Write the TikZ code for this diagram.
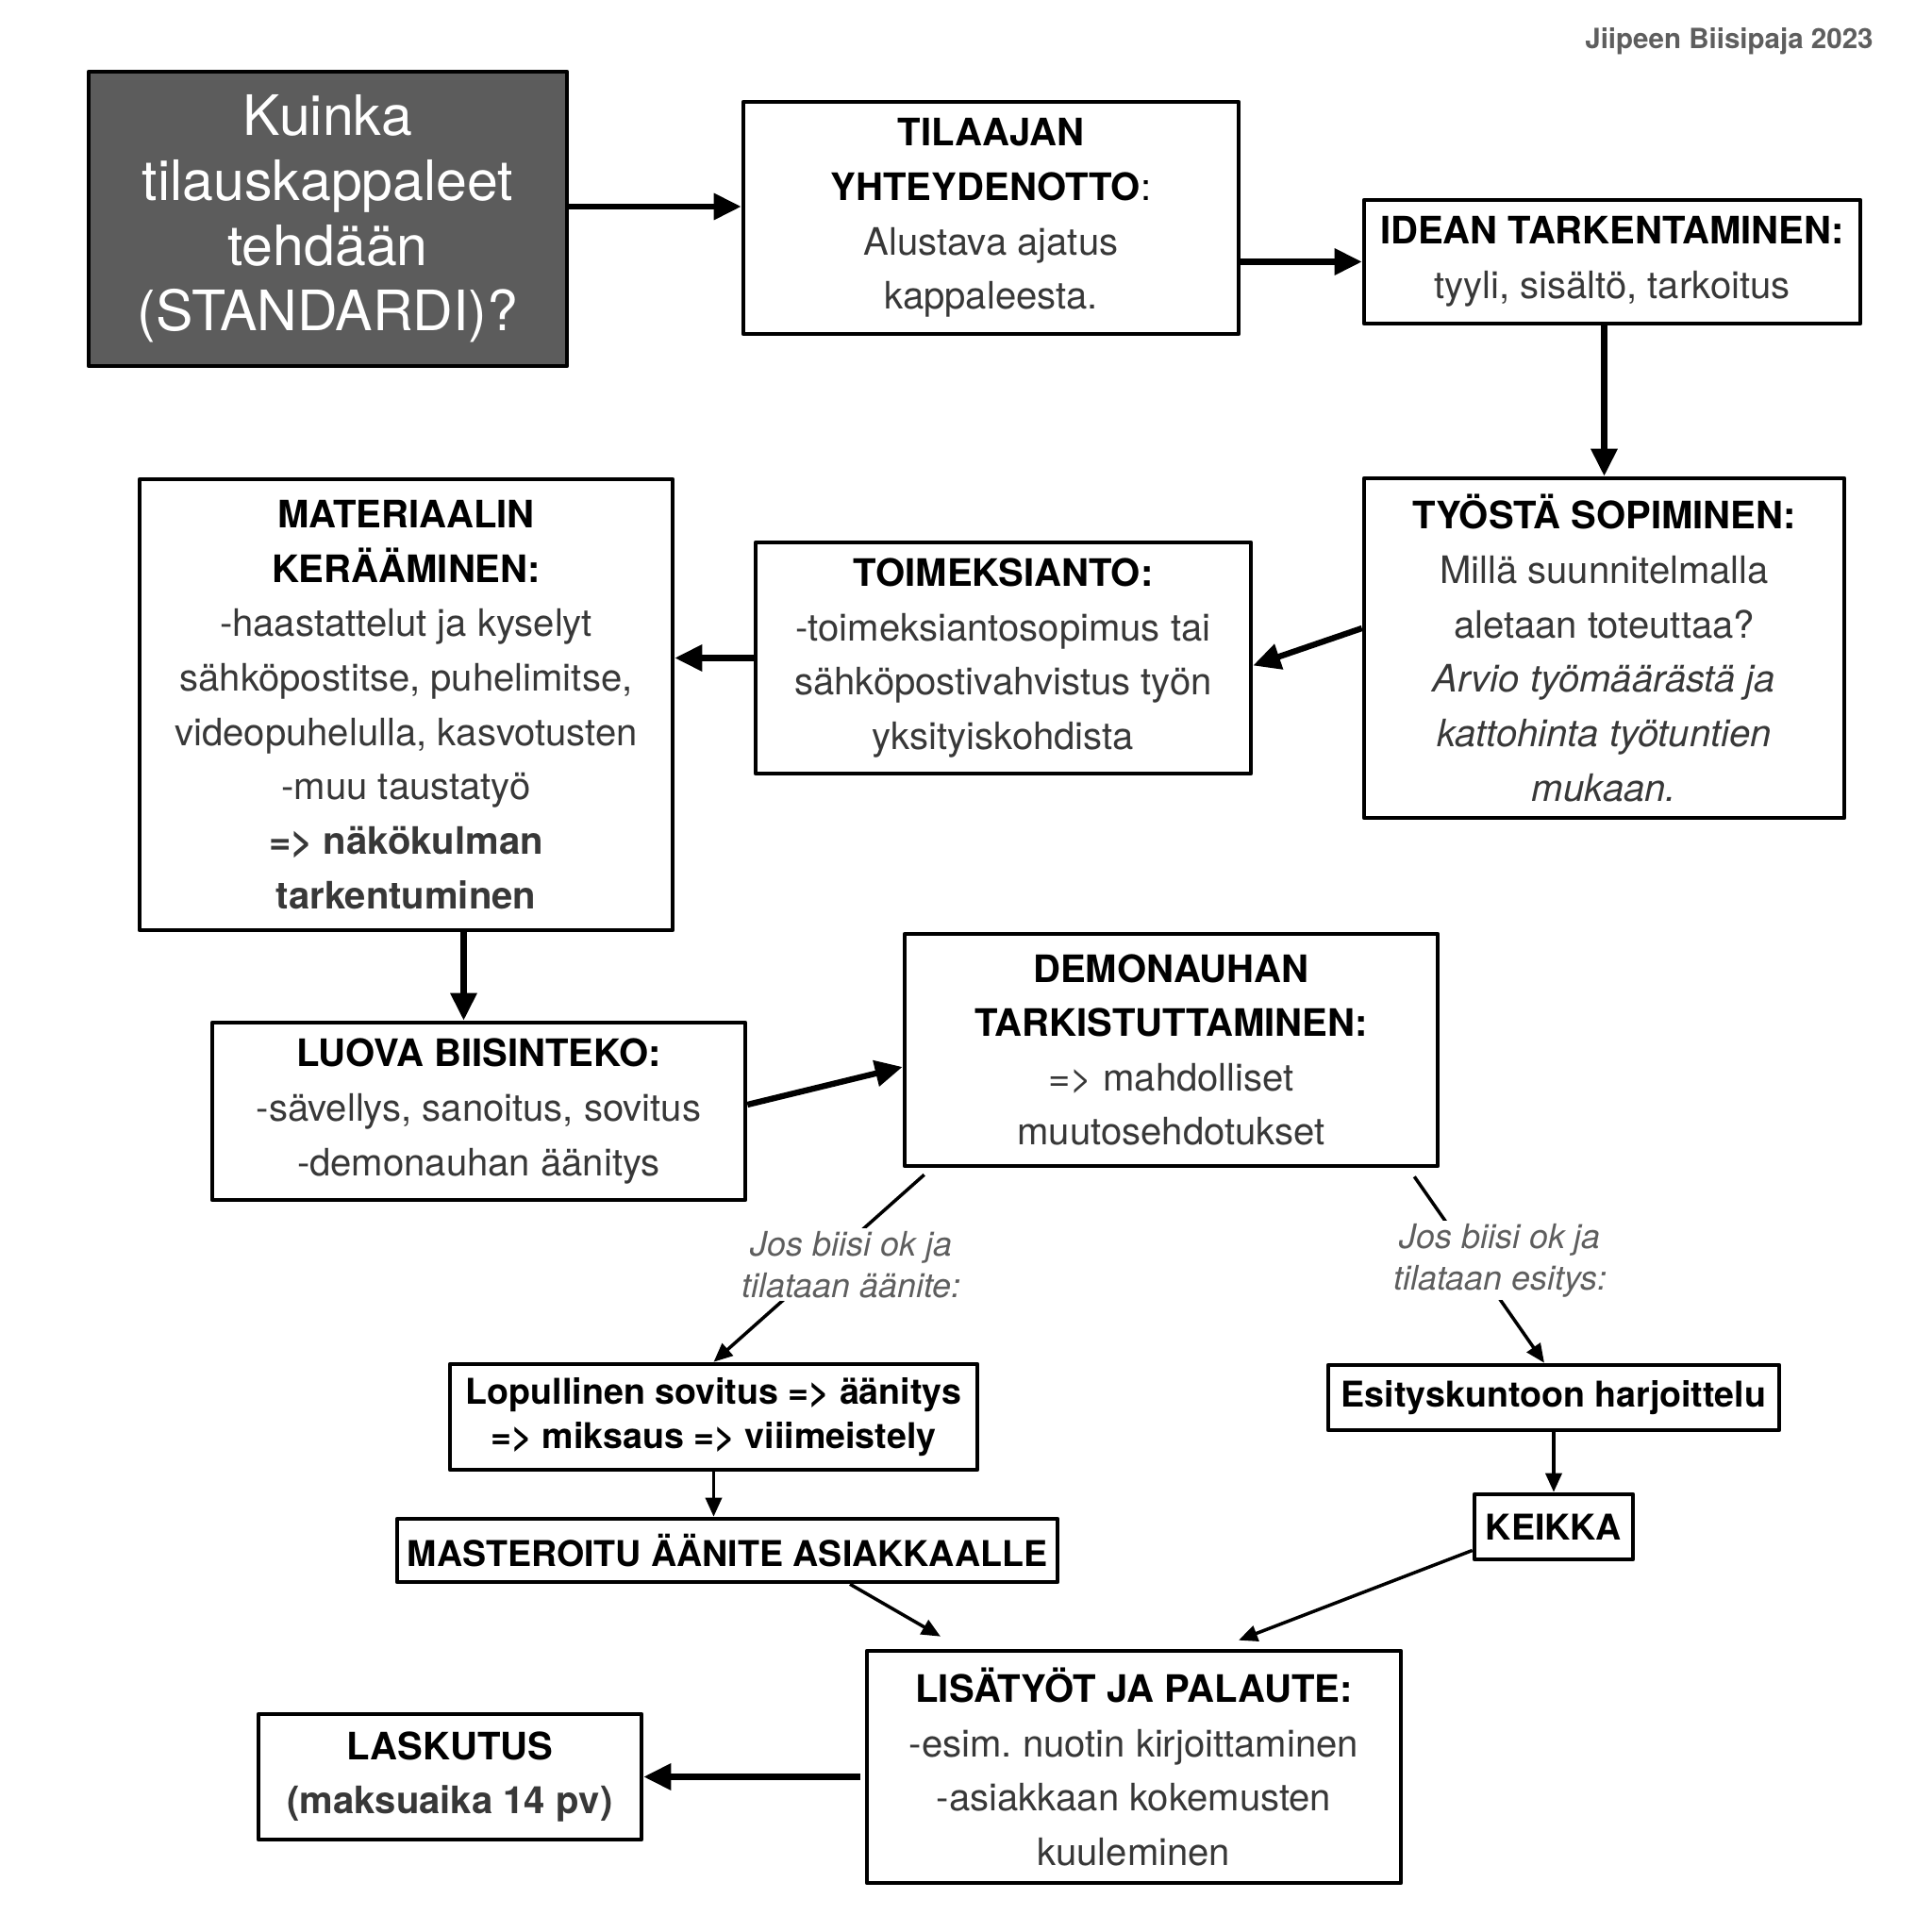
\documentclass[tikz,border=0pt]{standalone}
\usepackage{fontspec}
\setmainfont{TeX Gyre Heros}
\usetikzlibrary{arrows.meta}
\definecolor{tumma}{HTML}{5C5C5C}
\definecolor{teksti}{HTML}{383838}
\definecolor{ehtoharmaa}{HTML}{5E5E5E}
\newcommand{\otsi}[1]{\textcolor{black}{\bfseries #1}}
\frenchspacing

\begin{document}
\begin{tikzpicture}[
			line join=round,
			laatikko/.style={draw, line width=1.3pt, fill=white, align=center, text=teksti, inner sep=2pt,
				font={\fontsize{11.4}{16.4}\selectfont}},
			lihava/.style={laatikko, text=black, font={\bfseries\fontsize{10.7}{13.3}\selectfont}},
			nuoli/.style={line width=1.8pt, -{Triangle[length=2.9mm,width=2.7mm]}},
			ohut/.style={line width=1pt},
			ohutnuoli/.style={ohut, -{Triangle[length=2mm,width=1.7mm]}},
			ehto/.style={align=center, text=ehtoharmaa, fill=white, inner sep=1pt,
				font={\itshape\fontsize{10.2}{12.4}\selectfont}}
			]
			\useasboundingbox (0,0) rectangle (20.48,20.48);
			\node[anchor=east, text=ehtoharmaa, font={\bfseries\fontsize{8.4}{10}\selectfont}] (tekija) at (19.98,20.04) {Jiipeen Biisipaja 2023};
			% ylarivi
			\node[laatikko, fill=tumma, text=white, minimum width=5.07cm, minimum height=3.12cm,
				font={\fontsize{16.8}{19.6}\selectfont}] (kysymys) at (3.475,18.16)
				{Kuinka\\ tilauskappaleet\\ tehdään\\ (STANDARDI)?};
			\node[laatikko, minimum width=5.25cm, minimum height=2.46cm] (yhteys) at (10.505,18.17)
				{\otsi{TILAAJAN}\\ \otsi{YHTEYDENOTTO}\textcolor{black}{:}\\ Alustava ajatus\\ kappaleesta.};
			\node[laatikko, minimum width=5.26cm, minimum height=1.31cm] (idea) at (17.09,17.705)
				{\otsi{IDEAN TARKENTAMINEN:}\\ tyyli, sisältö, tarkoitus};
			% keskirivi
			\node[laatikko, minimum width=5.09cm, minimum height=3.60cm] (sopiminen) at (17.005,13.61)
				{\otsi{TYÖSTÄ SOPIMINEN:}\\ Millä suunnitelmalla\\ aletaan toteuttaa?\\
				\textit{Arvio työmäärästä ja}\\ \textit{kattohinta työtuntien}\\ \textit{mukaan.}};
			\node[laatikko, minimum width=5.25cm, minimum height=2.45cm] (toimeksianto) at (10.635,13.505)
				{\otsi{TOIMEKSIANTO:}\\ -toimeksiantosopimus tai\\ sähköpostivahvistus työn\\ yksityiskohdista};
			\node[laatikko, minimum width=5.65cm, minimum height=4.78cm] (materiaali) at (4.305,13.01)
				{\otsi{MATERIAALIN}\\ \otsi{KERÄÄMINEN:}\\ -haastattelut ja kyselyt\\ sähköpostitse, puhelimitse,\\
				videopuhelulla, kasvotusten\\ -muu taustatyö\\ \textbf{=> näkökulman}\\ \textbf{tarkentuminen}};
			\node[laatikko, minimum width=5.65cm, minimum height=1.88cm] (luova) at (5.075,8.70)
				{\otsi{LUOVA BIISINTEKO:}\\ -sävellys, sanoitus, sovitus\\ -demonauhan äänitys};
			\node[laatikko, minimum width=5.65cm, minimum height=2.46cm] (demo) at (12.415,9.35)
				{\otsi{DEMONAUHAN}\\ \otsi{TARKISTUTTAMINEN:}\\ => mahdolliset\\ muutosehdotukset};
			% haarat
			\node[lihava, minimum width=5.59cm, minimum height=1.12cm] (lopullinen) at (7.565,5.46)
				{Lopullinen sovitus => äänitys\\ => miksaus => viiimeistely};
			\node[lihava, minimum width=7.0cm, minimum height=0.67cm] (master) at (7.71,4.045)
				{MASTEROITU ÄÄNITE ASIAKKAALLE};
			\node[lihava, minimum width=4.78cm, minimum height=0.69cm] (esitys) at (16.47,5.665)
				{Esityskuntoon harjoittelu};
			\node[lihava, minimum width=1.68cm, minimum height=0.69cm] (keikka) at (16.47,4.295)
				{KEIKKA};
			% alarivi
			\node[laatikko, minimum width=5.66cm, minimum height=2.46cm] (lisatyot) at (12.02,1.75)
				{\otsi{LISÄTYÖT JA PALAUTE:}\\ -esim. nuotin kirjoittaminen\\ -asiakkaan kokemusten\\ kuuleminen};
			\node[laatikko, minimum width=4.06cm, minimum height=1.33cm] (laskutus) at (4.77,1.645)
				{\otsi{LASKUTUS}\\ \textbf{(maksuaika 14 pv)}};
			% nuolet
			\draw[nuoli] ([yshift=1.3mm]kysymys.east) -- ([yshift=1.3mm]kysymys.east -| yhteys.west);
			\draw[nuoli] (yhteys.east |- idea.west) -- (idea.west);
			\draw[nuoli] (sopiminen.north |- idea.south) -- (sopiminen.north);
			\draw[nuoli] ([yshift=2.1mm]sopiminen.west) -- ([yshift=-0.8mm]toimeksianto.east);
			\draw[nuoli] (toimeksianto.west) -- (toimeksianto.west -| materiaali.east);
			\draw[nuoli] ([xshift=-1.6mm]luova.north |- materiaali.south) -- ([xshift=-1.6mm]luova.north);
			\draw[nuoli] ([yshift=0.7mm]luova.east) -- ([yshift=-1.8mm]demo.west);
			\draw[ohutnuoli] ([xshift=2.3mm,yshift=-0.7mm]demo.south west) --
				node[ehto, pos=0.48, xshift=3mm] (aanite) {Jos biisi ok ja\\ tilataan äänite:} (lopullinen.north);
			\draw[ohutnuoli] ([xshift=-2.7mm,yshift=-0.9mm]demo.south east) --
				node[ehto, pos=0.45, xshift=2.9mm] (esitysehto) {Jos biisi ok ja\\ tilataan esitys:} ([xshift=-1mm]esitys.north);
			\draw[ohutnuoli] (lopullinen.south) -- (lopullinen.south |- master.north);
			\draw[ohutnuoli] (esitys.south) -- (keikka.north);
			\draw[ohutnuoli] ([xshift=13mm]master.south) -- ([xshift=-20.5mm,yshift=1.3mm]lisatyot.north);
			\draw[ohutnuoli] ([yshift=-2.5mm]keikka.west) -- ([xshift=11.1mm,yshift=0.9mm]lisatyot.north);
			\draw[nuoli] ([xshift=-0.5mm]lisatyot.west |- laskutus.east) -- (laskutus.east);
		\end{tikzpicture}
\end{document}
